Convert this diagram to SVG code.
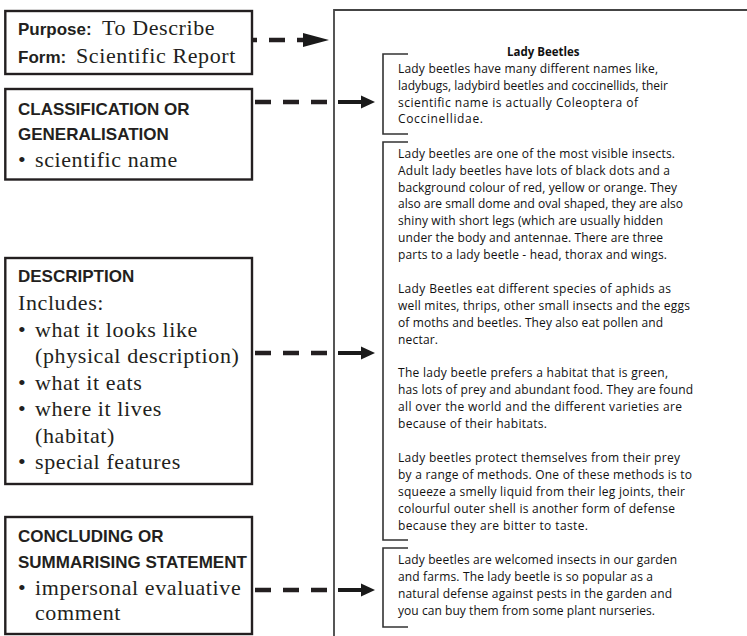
<svg xmlns="http://www.w3.org/2000/svg" width="747" height="636" viewBox="0 0 747 636">
<defs>
<style>
.box{fill:#fff;stroke:#231f20;stroke-width:2.4}
.hd{font-family:"Liberation Sans",Arial,sans-serif;font-weight:bold;font-size:17px;fill:#231f20}
.sf{font-family:"Liberation Serif","Times New Roman",serif;font-size:22px;letter-spacing:0.6px;fill:#231f20}
.pg{font-family:"Open Sans","Noto Sans",sans-serif;font-size:12px;fill:#111}
.ttl{font-family:"Open Sans","Noto Sans",sans-serif;font-size:11.5px;font-weight:bold;fill:#111}
.dash{fill:none;stroke:#231f20;stroke-width:4.5;stroke-dasharray:16 12}
.shaft{fill:none;stroke:#1a1a1a;stroke-width:4}
.head{fill:#1a1a1a}
.brk{fill:none;stroke:#333;stroke-width:1.6}
</style>
</defs>
<rect width="747" height="636" fill="#fff"/>
<g id="page">
<path d="M334 636 V10 H747" fill="none" stroke="#444" stroke-width="1.8"/>
<path class="brk" d="M408 54 H383 V134 H408"/>
<path class="brk" d="M408 142 H383 V540 H408"/>
<path class="brk" d="M408 548 H383 V627 H408"/>
<text class="ttl" x="507" y="56">Lady Beetles</text>
<g class="pg">
<text x="398" y="73" textLength="260">Lady beetles have many different names like,</text>
<text x="398" y="90" textLength="270">ladybugs, ladybird beetles and coccinellids, their</text>
<text x="398" y="107" textLength="240">scientific name is actually Coleoptera of</text>
<text x="398" y="123" textLength="85">Coccinellidae.</text>
<text x="398" y="158" textLength="277">Lady beetles are one of the most visible insects.</text>
<text x="398" y="175" textLength="272">Adult lady beetles have lots of black dots and a</text>
<text x="398" y="192" textLength="279">background colour of red, yellow or orange. They</text>
<text x="398" y="208" textLength="285">also are small dome and oval shaped, they are also</text>
<text x="398" y="225" textLength="265">shiny with short legs (which are usually hidden</text>
<text x="398" y="242" textLength="265">under the body and antennae. There are three</text>
<text x="398" y="259" textLength="269">parts to a lady beetle - head, thorax and wings.</text>
<text x="398" y="293" textLength="273">Lady Beetles eat different species of aphids as</text>
<text x="398" y="310" textLength="292">well mites, thrips, other small insects and the eggs</text>
<text x="398" y="327" textLength="265">of moths and beetles. They also eat pollen and</text>
<text x="398" y="344" textLength="40">nectar.</text>
<text x="398" y="377" textLength="270">The lady beetle prefers a habitat that is green,</text>
<text x="398" y="394" textLength="295">has lots of prey and abundant food. They are found</text>
<text x="398" y="411" textLength="284">all over the world and the different varieties are</text>
<text x="398" y="428" textLength="149">because of their habitats.</text>
<text x="398" y="462" textLength="282">Lady beetles protect themselves from their prey</text>
<text x="398" y="479" textLength="294">by a range of methods. One of these methods is to</text>
<text x="398" y="496" textLength="287">squeeze a smelly liquid from their leg joints, their</text>
<text x="398" y="513" textLength="277">colourful outer shell is another form of defense</text>
<text x="398" y="530" textLength="190">because they are bitter to taste.</text>
<text x="398" y="564" textLength="279">Lady beetles are welcomed insects in our garden</text>
<text x="398" y="581" textLength="255">and farms. The lady beetle is so popular as a</text>
<text x="398" y="598" textLength="274">natural defense against pests in the garden and</text>
<text x="398" y="615" textLength="257">you can buy them from some plant nurseries.</text>
</g>
</g>
<g id="connectors">
<path class="dash" d="M241 40 H306"/>
<polygon class="head" points="303,33 329,40 303,47"/>
<path class="dash" d="M255 102 H328"/>
<path class="shaft" d="M338 102 H363"/>
<polygon class="head" points="361,95.5 375,102 361,108.5"/>
<path class="dash" d="M255 353 H328"/>
<path class="shaft" d="M338 353 H363"/>
<polygon class="head" points="361,346.5 375,353 361,359.5"/>
<path class="dash" d="M255 590 H328"/>
<path class="shaft" d="M338 590 H363"/>
<polygon class="head" points="361,583.5 375,590 361,596.5"/>
</g>
<g id="purpose">
<rect class="box" x="5.3" y="11" width="246.7" height="63"/>
<text x="18" y="35"><tspan class="hd">Purpose:</tspan><tspan class="sf" x="102">To Describe</tspan></text>
<text x="18" y="63"><tspan class="hd">Form:</tspan><tspan class="sf" x="76">Scientific Report</tspan></text>
</g>
<g id="classification">
<rect class="box" x="5.3" y="89" width="246.7" height="90.5"/>
<text class="hd" x="18" y="115">CLASSIFICATION OR</text>
<text class="hd" x="18" y="140">GENERALISATION</text>
<text class="sf" x="18" y="167">•</text><text class="sf" x="35" y="167">scientific name</text>
</g>
<g id="description">
<rect class="box" x="5.3" y="258" width="246.7" height="226"/>
<text class="hd" x="18" y="282">DESCRIPTION</text>
<text class="sf" x="18" y="310">Includes:</text>
<text class="sf" x="18" y="337">•</text><text class="sf" x="35" y="337">what it looks like</text>
<text class="sf" x="35" y="363">(physical description)</text>
<text class="sf" x="18" y="390">•</text><text class="sf" x="35" y="390">what it eats</text>
<text class="sf" x="18" y="416">•</text><text class="sf" x="35" y="416">where it lives</text>
<text class="sf" x="35" y="443">(habitat)</text>
<text class="sf" x="18" y="469">•</text><text class="sf" x="35" y="469">special features</text>
</g>
<g id="concluding">
<rect class="box" x="5.3" y="517" width="246.7" height="117"/>
<text class="hd" x="18" y="542">CONCLUDING OR</text>
<text class="hd" x="18" y="568">SUMMARISING STATEMENT</text>
<text class="sf" x="18" y="595">•</text><text class="sf" x="35" y="595">impersonal evaluative</text>
<text class="sf" x="35" y="620">comment</text>
</g>
</svg>
